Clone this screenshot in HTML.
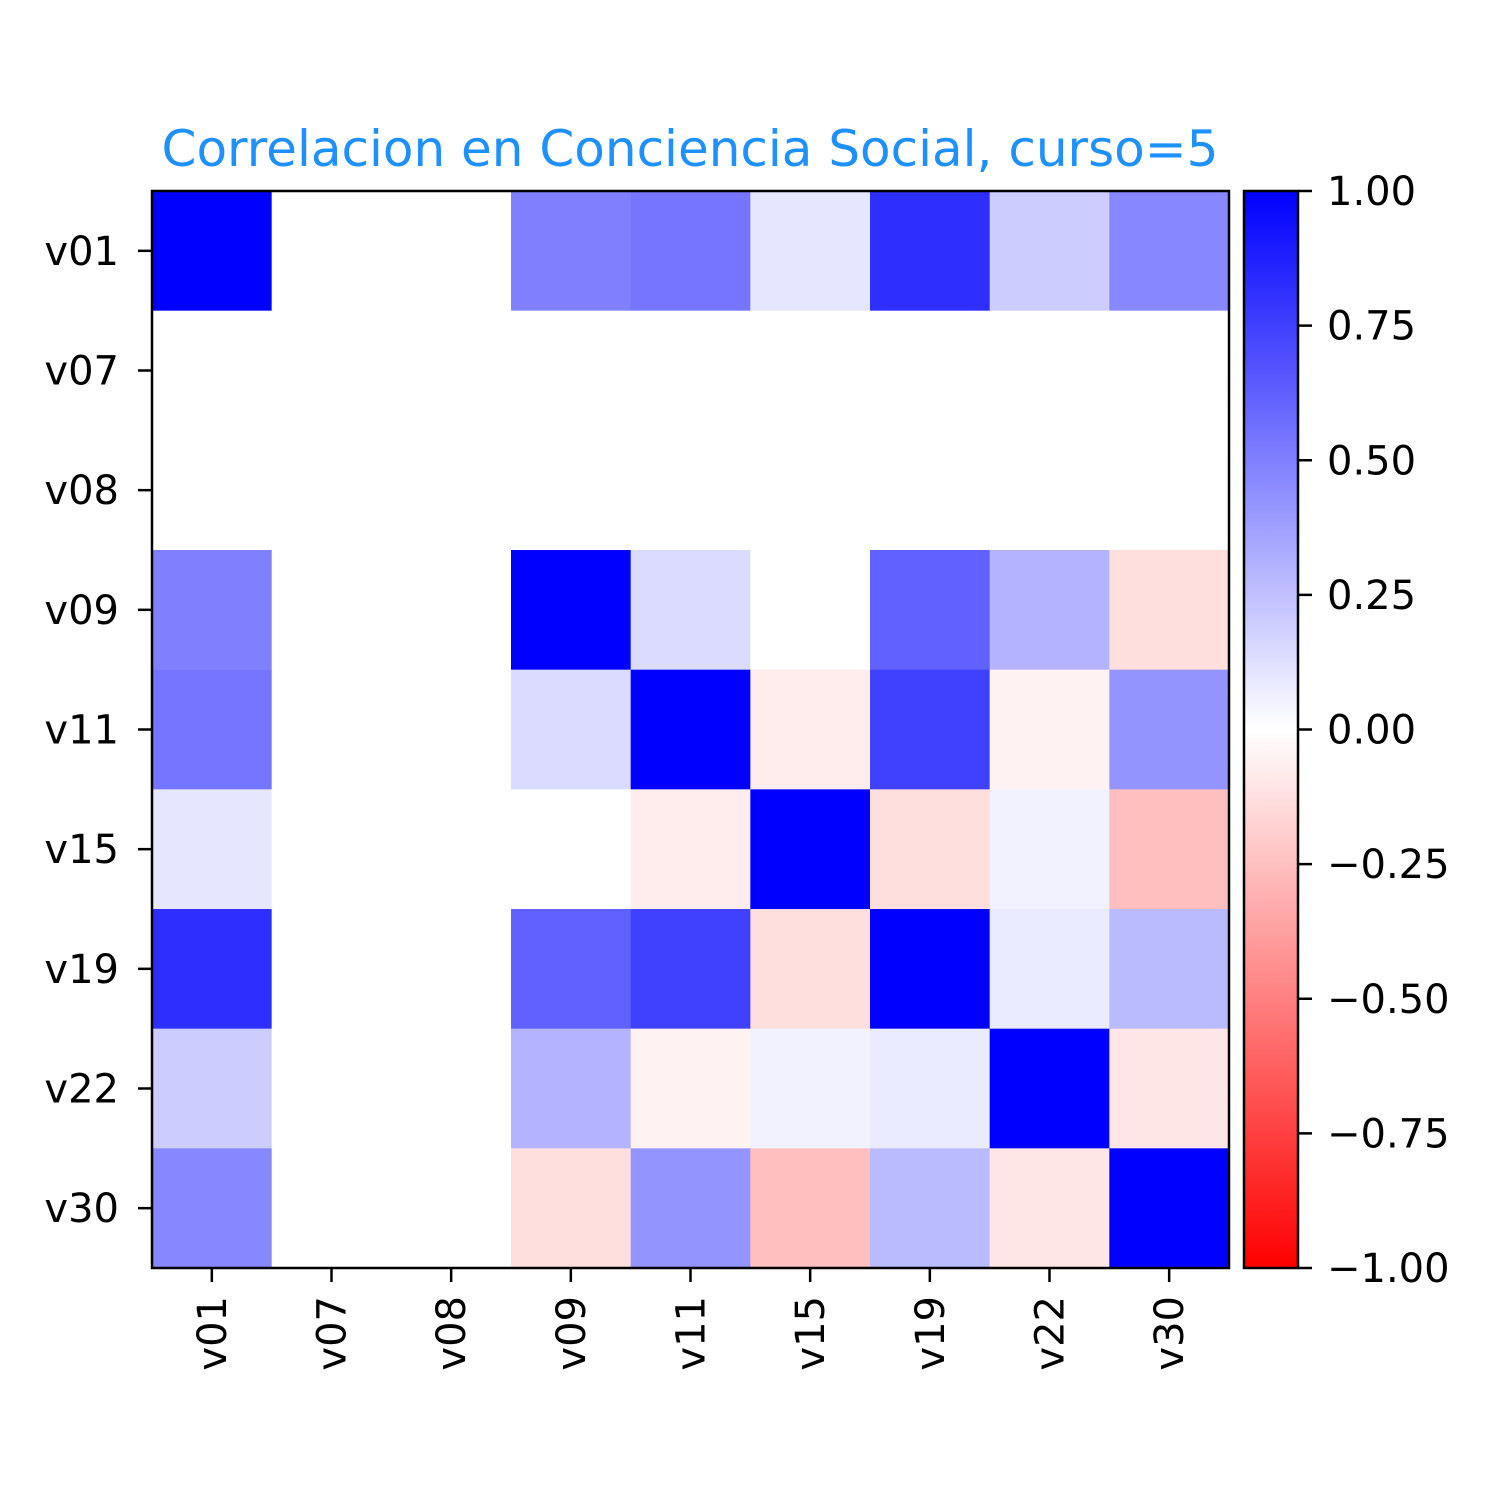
<!DOCTYPE html>
<html><head><meta charset="utf-8"><style>
body{margin:0;background:#fff}
text{font-family:"DejaVu Sans","Liberation Sans",sans-serif}
</style></head><body>
<svg id="chart" width="1500" height="1500" xmlns="http://www.w3.org/2000/svg">
<defs><linearGradient id="cbg" x1="0" y1="1" x2="0" y2="0">
<stop offset="0" stop-color="#ff0000"/><stop offset="0.5" stop-color="#ffffff"/><stop offset="1" stop-color="#0000ff"/>
</linearGradient></defs>
<text x="690" y="166" text-anchor="middle" font-size="50" fill="#1e90ff">Correlacion en Conciencia Social, curso=5</text>
<g id="cells"></g>
<rect x="152" y="191" width="1077" height="1077" fill="none" stroke="#000" stroke-width="2.5"/>
<g id="axes"></g>
<rect x="1244" y="191" width="54" height="1077" fill="url(#cbg)" stroke="#000" stroke-width="2.5"/>
<g id="cbticks"></g>
</svg>
<script>
const labels = ["v01","v07","v08","v09","v11","v15","v19","v22","v30"];
const row_v01 = [1, null, null, 0.50, 0.54, 0.10, 0.82, 0.20, 0.47];
const row_v07 = [null, null, null, null, null, null, null, null, null];
const row_v08 = [null, null, null, null, null, null, null, null, null];
const row_v09 = [0.50, null, null, 1, 0.14, 0.00, 0.62, 0.30, -0.13];
const row_v11 = [0.54, null, null, 0.14, 1, -0.07, 0.75, -0.05, 0.42];
const row_v15 = [0.10, null, null, 0.00, -0.07, 1, -0.13, 0.05, -0.25];
const row_v19 = [0.82, null, null, 0.62, 0.75, -0.13, 1, 0.08, 0.27];
const row_v22 = [0.20, null, null, 0.30, -0.05, 0.05, 0.08, 1, -0.10];
const row_v30 = [0.47, null, null, -0.13, 0.42, -0.25, 0.27, -0.10, 1];
const cbTicks = [1, 0.75, 0.5, 0.25, 0, -0.25, -0.5, -0.75, -1];
const cbTickLabels = ["1.00","0.75","0.50","0.25","0.00","\u22120.25","\u22120.50","\u22120.75","\u22121.00"];

const matrix = [row_v01,row_v07,row_v08,row_v09,row_v11,row_v15,row_v19,row_v22,row_v30];
const NS="http://www.w3.org/2000/svg";
const X0=152, Y0=191, W=1077, n=labels.length, cw=W/n;
const xs=i=>X0+i*cw, ys=i=>Y0+i*cw;
const cbY=v=>191+(1-v)/2*1077;
function color(v){
  if(v===null) return "#ffffff";
  let r,g,b;
  if(v>=0){r=g=Math.round(255*(1-v));b=255;}else{r=255;g=b=Math.round(255*(1+v));}
  return `rgb(${r},${g},${b})`;
}
function mk(tag,attrs,parent,txt){const e=document.createElementNS(NS,tag);for(const k in attrs)e.setAttribute(k,attrs[k]);if(txt!==undefined)e.textContent=txt;parent.appendChild(e);return e;}
const cells=document.getElementById('cells');
matrix.forEach((row,i)=>row.forEach((v,j)=>{
  const r=mk('rect',{x:xs(j),y:ys(i),width:cw+0.5,height:cw+0.5,fill:color(v)},cells);
  
  
}));
const axes=document.getElementById('axes');
labels.forEach((l,i)=>{
  const cy=ys(i)+cw/2, cx=xs(i)+cw/2;
  const t1=mk('line',{x1:138,y1:cy,x2:152,y2:cy,stroke:'#000','stroke-width':2.5},axes);
  
  
  const l1=mk('text',{x:119,y:cy+14,'text-anchor':'end','font-size':40},axes,l);
  
  
  const t2=mk('line',{x1:cx,y1:1268,x2:cx,y2:1282,stroke:'#000','stroke-width':2.5},axes);
  
  
  const l2=mk('text',{x:0,y:0,'text-anchor':'end','font-size':40,transform:`translate(${cx+14},1296) rotate(-90)`},axes,l);
  
  
});
const cb=document.getElementById('cbticks');
cbTicks.forEach((v,i)=>{
  const y=cbY(v);
  const t=mk('line',{x1:1298,y1:y,x2:1312,y2:y,stroke:'#000','stroke-width':2.5},cb);
  
  
  const l=mk('text',{x:1327,y:y+14,'font-size':40},cb,cbTickLabels[i]);
  
  
});
</script>
</body></html>
